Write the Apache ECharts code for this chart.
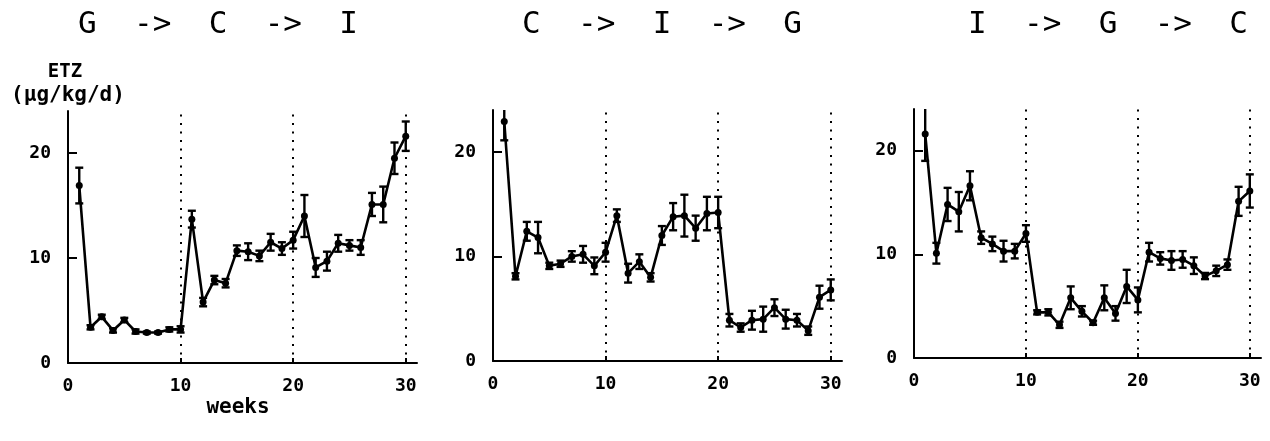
<!DOCTYPE html>
<html>
<head>
<meta charset="utf-8">
<script src="https://cdn.jsdelivr.net/npm/echarts@6/dist/echarts.min.js"></script>
<style>
html,body{margin:0;padding:0;background:#fff;}
#chart{width:1270px;height:441px;}
</style>
</head>
<body>
<div id="chart"></div>
<script>
// ---- data ----
const weeks = [1,2,3,4,5,6,7,8,9,10,11,12,13,14,15,16,17,18,19,20,21,22,23,24,25,26,27,28,29,30];
const titles = ['G  ->  C  ->  I', 'C  ->  I  ->  G', 'I  ->  G  ->  C'];
const xTickLabels = [0, 10, 20, 30];
const yTickLabels = [0, 10, 20];
const phaseBoundaries = [10, 20, 30];

// G -> C -> I
const meanGCI = [16.9,3.4,4.4,3.1,4.1,3.0,2.9,2.9,3.2,3.2,13.7,5.8,7.9,7.6,10.7,10.6,10.2,11.5,10.9,11.7,14.0,9.1,9.7,11.4,11.2,11.0,15.1,15.1,19.5,21.6];
const errGCI  = [1.7,0.2,0.2,0.2,0.2,0.2,0.1,0.1,0.2,0.3,0.8,0.4,0.4,0.4,0.5,0.8,0.5,0.8,0.6,0.8,2.0,0.9,0.9,0.8,0.5,0.7,1.1,1.7,1.5,1.4];
// C -> I -> G
const meanCIG = [22.9,8.1,12.4,11.8,9.1,9.3,10.0,10.2,9.1,10.4,13.9,8.4,9.5,8.0,12.0,13.8,13.9,12.7,14.1,14.2,3.9,3.2,3.9,4.0,5.1,4.0,3.9,2.9,6.1,6.8];
const errCIG  = [1.8,0.3,0.9,1.5,0.3,0.3,0.5,0.8,0.8,0.9,0.6,0.9,0.7,0.4,0.9,1.3,2.0,1.2,1.6,1.5,0.6,0.4,0.9,1.2,0.8,0.9,0.6,0.4,1.1,1.0];
// I -> G -> C
const meanIGC = [21.6,10.1,14.8,14.1,16.6,11.6,11.0,10.3,10.3,12.0,4.4,4.4,3.2,5.8,4.5,3.4,5.8,4.3,6.9,5.6,10.2,9.6,9.4,9.5,8.9,7.9,8.4,9.0,15.1,16.1];
const errIGC  = [2.6,1.0,1.6,1.9,1.4,0.6,0.7,1.0,0.7,0.8,0.2,0.3,0.3,1.1,0.5,0.2,1.2,0.7,1.6,1.2,0.9,0.6,0.9,0.8,0.8,0.3,0.5,0.5,1.4,1.6];

const panels = [
  {means: meanGCI, errs: errGCI},
  {means: meanCIG, errs: errCIG},
  {means: meanIGC, errs: errIGC}
];

// ---- layout ----
const grids = [
  {left: 68, top: 111, width: 349, height: 252},
  {left: 493, top: 110, width: 349, height: 251},
  {left: 914, top: 109, width: 347, height: 249}
];
const titleCenters = [218, 662, 1108];

const labelFont = 'DejaVu Sans Mono';
const chart = echarts.init(document.getElementById('chart'), null, {renderer: 'canvas'});

const xAxes = [], yAxes = [], series = [], graphics = [];
grids.forEach((g, i) => {
  xAxes.push({
    gridIndex: i, type: 'value', min: 0, max: 31, interval: 10,
    axisLine: {show: true, lineStyle: {color: '#000', width: 2}},
    axisTick: {show: true, inside: true, length: 5, customValues: phaseBoundaries, lineStyle: {color: '#000', width: 2}},
    axisLabel: {customValues: xTickLabels, color: '#000', fontFamily: labelFont, fontWeight: 'bold', fontSize: 18, margin: 14},
    splitLine: {show: false}
  });
  yAxes.push({
    gridIndex: i, type: 'value', min: 0, max: 24, interval: 10,
    axisLine: {show: true, lineStyle: {color: '#000', width: 2}},
    axisTick: {show: true, inside: true, length: 9, customValues: [10, 20], lineStyle: {color: '#000', width: 2}},
    axisLabel: {customValues: yTickLabels, color: '#000', fontFamily: labelFont, fontWeight: 'bold', fontSize: 18, margin: 17},
    splitLine: {show: false}
  });
  const p = panels[i];
  series.push({
    type: 'line', xAxisIndex: i, yAxisIndex: i,
    data: weeks.map((w, k) => [w, p.means[k]]),
    symbol: 'circle', symbolSize: 7,
    itemStyle: {color: '#000'},
    lineStyle: {color: '#000', width: 2.6},
    z: 3,
    markLine: {
      silent: true, symbol: 'none', label: {show: false},
      lineStyle: {color: '#000', width: 2, type: [2, 6.5]},
      data: phaseBoundaries.map(v => ({xAxis: v}))
    }
  });
  series.push({
    type: 'custom', xAxisIndex: i, yAxisIndex: i, clip: true,
    data: weeks.map((w, k) => [w, p.means[k], p.errs[k]]),
    renderItem: function (params, api) {
      const x = api.value(0), m = api.value(1), e = api.value(2);
      const top = api.coord([x, m + e]);
      const bot = api.coord([x, m - e]);
      const hw = 4;
      const st = {stroke: '#000', lineWidth: 2.4};
      return {
        type: 'group',
        children: [
          {type: 'line', shape: {x1: top[0], y1: top[1], x2: bot[0], y2: bot[1]}, style: st},
          {type: 'line', shape: {x1: top[0] - hw, y1: top[1], x2: top[0] + hw, y2: top[1]}, style: st},
          {type: 'line', shape: {x1: bot[0] - hw, y1: bot[1], x2: bot[0] + hw, y2: bot[1]}, style: st}
        ]
      };
    },
    z: 4
  });
  graphics.push({
    type: 'text', x: titleCenters[i], y: 25,
    style: {text: titles[i], textAlign: 'center', textVerticalAlign: 'middle', font: '31px "DejaVu Sans Mono"', fill: '#000'}
  });
});

graphics.push({type: 'text', x: 65, y: 72, style: {text: 'ETZ', textAlign: 'center', textVerticalAlign: 'middle', font: 'bold 19px "DejaVu Sans Mono"', fill: '#000'}});
graphics.push({type: 'text', x: 68, y: 96, style: {text: '(µg/kg/d)', textAlign: 'center', textVerticalAlign: 'middle', font: 'bold 21px "DejaVu Sans Mono"', fill: '#000'}});
graphics.push({type: 'text', x: 238, y: 408, style: {text: 'weeks', textAlign: 'center', textVerticalAlign: 'middle', font: 'bold 21px "DejaVu Sans Mono"', fill: '#000'}});

chart.setOption({
  animation: false,
  backgroundColor: '#fff',
  grid: grids,
  xAxis: xAxes,
  yAxis: yAxes,
  series: series,
  graphic: graphics
});
</script>
</body>
</html>
